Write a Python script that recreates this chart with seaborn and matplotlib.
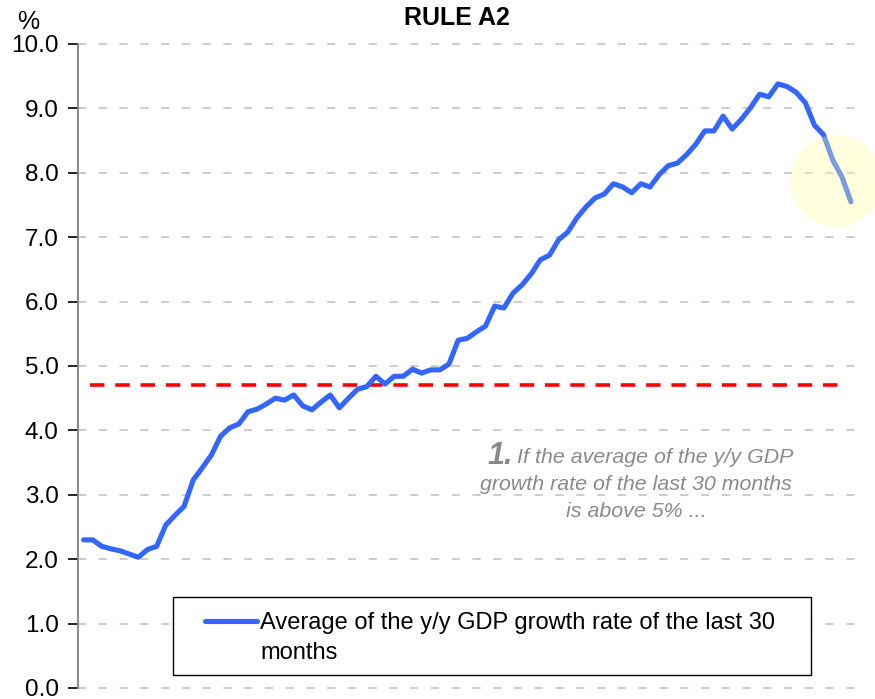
import matplotlib
matplotlib.use("Agg")
import matplotlib.pyplot as plt
from matplotlib.lines import Line2D
from matplotlib.patches import Ellipse, Rectangle
import pandas as pd
import seaborn as sns

# average of the y/y GDP growth rate of the last 30 months (%), one value per month
avg_growth = [
    2.30, 2.30, 2.20, 2.16, 2.13, 2.08, 2.03, 2.15, 2.20, 2.53,
    2.68, 2.82, 3.23, 3.42, 3.62, 3.91, 4.04, 4.10, 4.29, 4.33,
    4.41, 4.50, 4.47, 4.55, 4.38, 4.32, 4.44, 4.55, 4.35, 4.50,
    4.64, 4.68, 4.84, 4.72, 4.84, 4.84, 4.95, 4.89, 4.94, 4.94,
    5.03, 5.40, 5.43, 5.53, 5.62, 5.93, 5.90, 6.13, 6.26, 6.43,
    6.65, 6.72, 6.96, 7.08, 7.30, 7.47, 7.61, 7.67, 7.83, 7.78,
    7.69, 7.83, 7.78, 7.97, 8.11, 8.15, 8.28, 8.44, 8.65, 8.65,
    8.88, 8.68, 8.83, 9.01, 9.22, 9.18, 9.38, 9.34, 9.25, 9.09,
    8.74, 8.59, 8.20, 7.94, 7.55,
]
months = list(range(len(avg_growth)))
threshold = 4.7
y_ticks = [0, 1, 2, 3, 4, 5, 6, 7, 8, 9, 10]

series_label = "Average of the y/y GDP growth rate of the last 30"
series_label_2 = "months"
title = "RULE A2"
note_num = "1."
note_lines = ["If the average of the y/y GDP",
              "growth rate of the last 30 months",
              "is above 5% ..."]

df = pd.DataFrame({"month": months, "value": avg_growth})

sns.set_theme(style="white")
plt.rcParams["font.family"] = ["Liberation Sans", "DejaVu Sans"]

W, H = 875, 699
fig = plt.figure(figsize=(W / 100, H / 100), dpi=100)
ax = fig.add_axes([78 / W, 11 / H, 780 / W, 644 / H])

def fx(x):
    return x / W

def fy(y):
    return 1 - y / H

# grid
for t in y_ticks:
    ax.axhline(t, color="#c8c8c8", lw=1.3, ls=(0, (4.5, 7)), zorder=0, clip_on=False)

# threshold
ax.axhline(threshold, xmin=0.015, xmax=0.984, color="#ff0000", lw=2.6, ls=(0, (4, 3)), zorder=2)

sns.lineplot(data=df, x="month", y="value", ax=ax, color="#3366ff", lw=3.7, zorder=3,
             legend=False)

# highlight circle on the last months
ax.add_patch(Ellipse((82.4, 7.87), 10.1, 1.43, facecolor="#ffffa0", edgecolor="none",
                     alpha=0.35, zorder=4, clip_on=False))

ax.set_xlim(-0.61, 84.77)
ax.set_ylim(0, 10)
ax.set_yticks(y_ticks)
ax.set_yticklabels([f"{t:.1f}" for t in y_ticks], fontsize=17.5, color="black",
                   va="center_baseline")
ax.set_xticks([])
ax.set_xlabel("")
ax.set_ylabel("")
for s in ["top", "right", "bottom"]:
    ax.spines[s].set_visible(False)
ax.spines["left"].set_color("#7f7f7f")
ax.spines["left"].set_linewidth(1.3)
ax.tick_params(axis="y", direction="out", length=7, width=1.2, color="black", pad=7,
               left=True)

fig.text(fx(457), fy(18), title, ha="center", va="center", fontsize=18, fontweight="bold",
         color="black")
fig.text(fx(28), fy(22), "%", ha="center", va="center", fontsize=18, color="black")

gray = "#8a8a8a"
fig.text(fx(513), fy(464), note_num, ha="right", va="baseline", fontsize=22,
         fontweight="bold", style="italic", color=gray)
fig.text(fx(517), fy(463), note_lines[0], ha="left", va="baseline", fontsize=15.4,
         style="italic", color=gray)
fig.text(fx(636), fy(490), note_lines[1], ha="center", va="baseline", fontsize=15.4,
         style="italic", color=gray)
fig.text(fx(636), fy(517), note_lines[2], ha="center", va="baseline", fontsize=15.4,
         style="italic", color=gray)

# legend box
fig.add_artist(Rectangle((fx(173), fy(675)), (811 - 173) / W, (675 - 597) / H,
                         transform=fig.transFigure, facecolor="white", edgecolor="black",
                         lw=1.0, zorder=5))
handles = [Line2D([], [], color="#3366ff", lw=3.7), Line2D([], [], color="none")]
leg = fig.legend(handles, [series_label, series_label_2], loc="upper left",
                 bbox_to_anchor=(fx(205), fy(612)), borderaxespad=0, borderpad=0,
                 fontsize=17, frameon=False, handlelength=2.2,
                 handletextpad=0.15, labelspacing=0.32)
leg.set_zorder(6)
for txt in leg.get_texts():
    txt.set_color("black")

fig.savefig("out.png", dpi=100)
